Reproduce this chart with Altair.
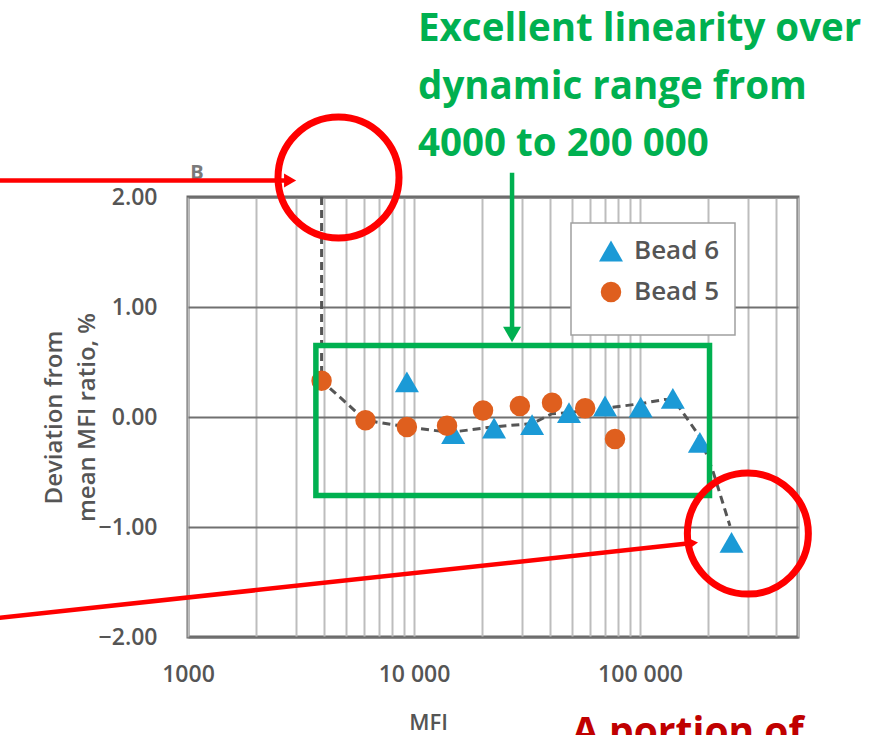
import altair as alt
import pandas as pd

# ---------------- data ----------------
series_names = ["Bead 6", "Bead 5"]
series_colors = ["#1B9AD6", "#DF5F1E"]
series_shapes = ["triangle-up", "circle"]
series_sizes = [576, 420]

bead6_mfi = [9300, 14900, 22600, 33300, 48500, 70000, 100700, 139700, 184000, 254000]
bead6_dev = [0.32, -0.15, -0.10, -0.07, 0.04, 0.10, 0.09, 0.17, -0.23, -1.14]

bead5_mfi = [3900, 6100, 9300, 14000, 20200, 29400, 40800, 57200, 77500]
bead5_dev = [0.33, -0.03, -0.09, -0.08, 0.06, 0.10, 0.13, 0.08, -0.20]

trend_mfi = [3900, 3900, 6100, 9300, 14400, 22300, 33400, 40800, 48500, 70000,
             100000, 129000, 140000, 150000, 184000, 210000, 250000]
trend_dev = [2.0, 0.33, -0.03, -0.09, -0.14, -0.09, -0.06, 0.03, 0.04, 0.08,
             0.12, 0.16, 0.15, 0.08, -0.18, -0.49, -0.99]

grid_mfi = [1000, 2000, 3000, 4000, 5000, 6000, 7000, 8000, 9000,
            10000, 20000, 30000, 40000, 50000, 60000, 70000, 80000, 90000,
            100000, 200000, 300000, 400000, 500000]
x_label_values = [1000, 10000, 100000]
x_label_texts = ["1000", "10 000", "100 000"]
y_tick_values = [-2, -1, 0, 1, 2]

# annotations (in data coordinates)
green_box_mfi = [3680, 203000]
green_box_dev = [0.65, -0.714]
green_arrow_mfi = [27150]
green_arrow_dev = [2.22, 0.75]
green_text_lines = ["Excellent linearity over", "dynamic range from", "4000 to 200 000"]
green_text_mfi = [10420, 10420, 10420]
green_text_dev = [3.42, 2.895, 2.377]

red_circle_mfi = [4634, 300000]
red_circle_dev = [2.177, -1.06]
red_arrow_start_mfi = [140, 140]
red_arrow_start_dev = [2.15, -1.83]
red_arrow_end_mfi = [2830, 169800]
red_arrow_end_dev = [2.15, -1.146]
red_arrow_angle = [0, 354]
red_text = ["A portion of"]
red_text_mfi = [50000]
red_text_dev = [-2.98]

b_text = ["B"]
b_text_mfi = [1096]
b_text_dev = [2.22]

# ---------------- tables ----------------
pts = pd.DataFrame({
    "MFI": bead6_mfi + bead5_mfi,
    "Deviation": bead6_dev + bead5_dev,
    "series": ["Bead 6"] * len(bead6_mfi) + ["Bead 5"] * len(bead5_mfi),
})
trend = pd.DataFrame({"MFI": trend_mfi, "Deviation": trend_dev, "i": list(range(len(trend_mfi)))})
grid_df = pd.DataFrame({"MFI": grid_mfi, "Deviation": [0.0] * len(grid_mfi)})

GRAY = "#555555"
FONT = "Open Sans"
GREEN = "#00B050"
RED = "#FF0000"

label_expr = " : ".join(f"datum.value == {v} ? '{t}'" for v, t in zip(x_label_values, x_label_texts)) + " : ''"

x_scale = alt.Scale(type="log", domain=[1000, 500000], nice=False)
y_scale = alt.Scale(domain=[-2, 2], nice=False, zero=False)

x_axis = alt.Axis(values=grid_mfi, labelExpr=label_expr, grid=True, gridColor="#bdbdbd",
                  gridWidth=2, domain=False, ticks=False, tickSize=0, labelPadding=26,
                  labelFont=FONT, labelFontSize=23, labelFontWeight=600, labelColor=GRAY,
                  labelFlush=False, labelOverlap=False, title="MFI", titleFont=FONT,
                  titleFontSize=22, titleFontWeight=600, titleColor=GRAY, titleX=240,
                  titleY=85, titleBaseline="middle", titleAlign="center")
y_axis = alt.Axis(values=y_tick_values, format=".2f", grid=True, gridColor="#707070",
                  gridWidth=2.2, domain=False, ticks=False, tickSize=0, labelPadding=31,
                  labelFont=FONT, labelFontSize=23, labelFontWeight=600, labelColor=GRAY,
                  labelFlush=False, title=["Deviation from", "mean MFI ratio, %"],
                  titleFont=FONT, titleFontSize=24, titleFontWeight=600, titleColor=GRAY,
                  titleLineHeight=33, titleAngle=270, titleX=-134, titleY=220,
                  titleBaseline="middle", titleAlign="center")

X = alt.X("MFI:Q", scale=x_scale, axis=x_axis)
Y = alt.Y("Deviation:Q", scale=y_scale, axis=y_axis)

grid_layer = alt.Chart(grid_df).mark_point(opacity=0).encode(x=X, y=Y)

trend_layer = alt.Chart(trend).mark_line(color="#555555", strokeWidth=3, strokeDash=[8, 5]).encode(
    x=X, y=Y, order="i:Q",
)

legend = alt.Legend(orient="none", legendX=383, legendY=26, title=" ", titleOrient="bottom",
                    titleFontSize=12, titlePadding=4, padding=15, strokeColor="#a0a0a0",
                    fillColor="white", labelFont=FONT, labelFontSize=26,
                    labelFontWeight=600, labelColor=GRAY, symbolOffset=12, labelOffset=10,
                    rowPadding=15, symbolStrokeWidth=0)

points_layer = alt.Chart(pts).mark_point(filled=True, opacity=1, strokeWidth=0).encode(
    x=X, y=Y,
    color=alt.Color("series:N", scale=alt.Scale(domain=series_names, range=series_colors), legend=legend),
    shape=alt.Shape("series:N", scale=alt.Scale(domain=series_names, range=series_shapes), legend=legend),
    size=alt.Size("series:N", scale=alt.Scale(domain=series_names, range=series_sizes), legend=legend),
)

box_df = pd.DataFrame({"MFI": [green_box_mfi[0]], "MFI2": [green_box_mfi[1]],
                       "Deviation": [green_box_dev[0]], "Deviation2": [green_box_dev[1]]})
box_layer = alt.Chart(box_df).mark_rect(filled=False, stroke=GREEN, strokeWidth=5.5, fillOpacity=0).encode(
    x=X, x2="MFI2:Q", y=Y, y2="Deviation2:Q",
)

garrow_df = pd.DataFrame({"MFI": green_arrow_mfi, "Deviation": [green_arrow_dev[0]],
                          "Deviation2": [green_arrow_dev[1]]})
garrow_layer = alt.Chart(garrow_df).mark_rule(color=GREEN, strokeWidth=4.5).encode(
    x=X, y=Y, y2="Deviation2:Q",
)
ghead_df = pd.DataFrame({"MFI": green_arrow_mfi, "Deviation": [green_arrow_dev[1]]})
ghead_layer = alt.Chart(ghead_df).mark_point(shape="triangle-down", filled=True, color=GREEN,
                                             opacity=1, size=324).encode(x=X, y=Y)

b_df = pd.DataFrame({"MFI": b_text_mfi, "Deviation": b_text_dev, "t": b_text})
b_layer = alt.Chart(b_df).mark_text(font=FONT, fontSize=20, fontWeight="bold", color="#7a7a7a",
                                    align="center", baseline="middle").encode(x=X, y=Y, text="t:N")

circ_df = pd.DataFrame({"MFI": red_circle_mfi, "Deviation": red_circle_dev})
circ_layer = alt.Chart(circ_df).mark_point(shape="circle", filled=False, color=RED, strokeWidth=7,
                                           opacity=1, size=14641).encode(x=X, y=Y)

rarrow_df = pd.DataFrame({"MFI": red_arrow_start_mfi, "MFI2": red_arrow_end_mfi,
                          "Deviation": red_arrow_start_dev, "Deviation2": red_arrow_end_dev,
                          "angle": red_arrow_angle})
rarrow_layer = alt.Chart(rarrow_df).mark_rule(color=RED, strokeWidth=4.5).encode(
    x=X, x2="MFI2:Q", y=Y, y2="Deviation2:Q",
)
rhead_layer = alt.Chart(rarrow_df).mark_point(shape="triangle-right", filled=True, color=RED,
                                              opacity=1, size=196).encode(
    x=alt.X("MFI2:Q", scale=x_scale, axis=x_axis), y=alt.Y("Deviation2:Q", scale=y_scale, axis=y_axis),
    angle=alt.Angle("angle:Q", scale=None),
)

gtext_df = pd.DataFrame({"MFI": green_text_mfi, "Deviation": green_text_dev, "t": green_text_lines})
gtext_layer = alt.Chart(gtext_df).mark_text(font="Open Sans", fontSize=38.5, fontWeight="bold", color=GREEN,
                                            align="left", baseline="alphabetic").encode(x=X, y=Y, text="t:N")

rtext_df = pd.DataFrame({"MFI": red_text_mfi, "Deviation": red_text_dev, "t": red_text})
rtext_layer = alt.Chart(rtext_df).mark_text(font="Open Sans", fontSize=39, fontWeight="bold", color="#C00000",
                                            align="left", baseline="alphabetic").encode(x=X, y=Y, text="t:N")

chart = alt.layer(
    grid_layer, trend_layer, points_layer, box_layer, garrow_layer, ghead_layer,
    b_layer, circ_layer, rarrow_layer, rhead_layer, gtext_layer, rtext_layer,
).properties(
    width=610, height=440,
    autosize=alt.AutoSizeParams(type="none"),
    padding={"left": 188, "top": 197, "right": 79, "bottom": 98},
    background="white",
).configure_view(stroke="#666666", strokeWidth=3).configure_legend(strokeWidth=1.5)

chart.save("out.html", embed_options={"renderer": "svg", "actions": False})
